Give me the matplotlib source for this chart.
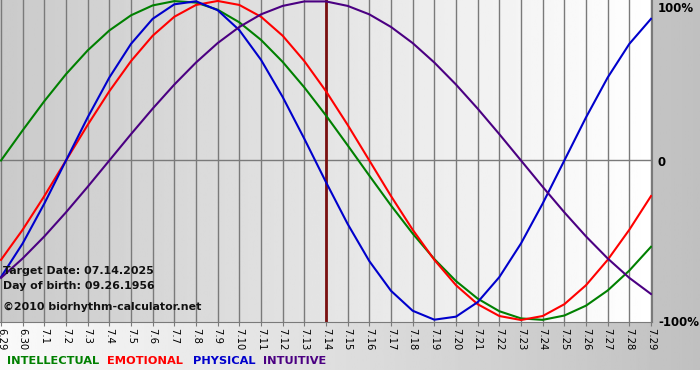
import matplotlib
matplotlib.use('Agg')
import matplotlib.pyplot as plt
import numpy as np

# days shown on the x axis
DAYS = ['6.29', '6.30'] + [f'7.{i}' for i in range(1, 30)]
TARGET = '7.14'

# curve values per day (1 = 100%)
PHYSICAL = [-0.731, -0.520, -0.270, 0.0, 0.270, 0.520, 0.731, 0.888, 0.979, 0.998, 0.942,
            0.817, 0.631, 0.398, 0.136, -0.136, -0.398, -0.631, -0.817, -0.942, -0.998,
            -0.979, -0.888, -0.731, -0.520, -0.270, 0.0, 0.270, 0.520, 0.731, 0.888]
EMOTIONAL = [-0.623, -0.434, -0.223, 0.0, 0.223, 0.434, 0.623, 0.782, 0.901, 0.975, 1.0,
             0.975, 0.901, 0.782, 0.623, 0.434, 0.223, 0.0, -0.223, -0.434, -0.623,
             -0.782, -0.901, -0.975, -1.0, -0.975, -0.901, -0.782, -0.623, -0.434, -0.223]
INTELLECTUAL = [0.0, 0.189, 0.372, 0.541, 0.690, 0.815, 0.910, 0.972, 0.999, 0.990, 0.945,
                0.866, 0.756, 0.618, 0.458, 0.282, 0.095, -0.095, -0.282, -0.458, -0.618,
                -0.756, -0.866, -0.945, -0.990, -0.999, -0.972, -0.910, -0.815, -0.690, -0.541]
INTUITIVE = [-0.736, -0.614, -0.476, -0.325, -0.165, 0.0, 0.165, 0.325, 0.476, 0.614, 0.736,
             0.837, 0.916, 0.969, 0.997, 0.997, 0.969, 0.916, 0.837, 0.736, 0.614,
             0.476, 0.325, 0.165, 0.0, -0.165, -0.325, -0.476, -0.614, -0.736, -0.837]

SERIES = [('INTELLECTUAL', INTELLECTUAL, '#008000'),
          ('EMOTIONAL', EMOTIONAL, '#ff0000'),
          ('PHYSICAL', PHYSICAL, '#0000cc'),
          ('INTUITIVE', INTUITIVE, '#4b0082')]

INFO = ['Target Date: 07.14.2025', 'Day of birth: 09.26.1956', '\u00a92010 biorhythm-calculator.net']

W, H = 700, 380


def px(x, y):
    return x / W, 1 - y / H


def main():
    fig = plt.figure(figsize=(7, 3.8), dpi=100)
    fig.patch.set_facecolor('white')

    # outer gradient background (light left, gray right), white strip at bottom
    bg = fig.add_axes([0, 10 / H, 1, 1 - 10 / H])
    bg.imshow(np.linspace(250, 192, 256)[None, :], cmap='gray', vmin=0, vmax=255,
              aspect='auto', extent=[0, 1, 0, 1])
    bg.axis('off')

    ax = fig.add_axes([0, (H - 322) / H, 652 / W, 322 / H])
    x = np.arange(len(DAYS))
    ax.set_xlim(-0.046, len(DAYS) - 1 + 0.046)
    ax.set_ylim(-1.0125, 1.006)
    ax.imshow(np.linspace(202, 255, 256)[None, :], cmap='gray', vmin=0, vmax=255,
              aspect='auto', extent=[-0.046, len(DAYS) - 1 + 0.046, -1.0125, 1.006], zorder=0)

    for xi in x:
        ax.axvline(xi, color='#7a7a7a', lw=1, zorder=1)
    ax.axhline(0, color='#7a7a7a', lw=1, zorder=1)
    ax.axvline(DAYS.index(TARGET), color='#7a1010', lw=2, zorder=2)

    for name, vals, col in SERIES:
        ax.plot(x, vals, color=col, lw=1.5, zorder=3)

    for s in ['top', 'left']:
        ax.spines[s].set_visible(False)
    for s in ['right', 'bottom']:
        ax.spines[s].set_color('#7a7a7a')
    ax.set_xticks(x)
    ax.set_xticklabels(DAYS, rotation=-90, fontsize=7.2, va='top', ha='center')
    ax.tick_params(axis='x', length=3, color='#7a7a7a', pad=1)
    ax.set_yticks([])

    for i, t in enumerate(INFO):
        ax.text(3 / 652, 1 - (271 + 15 * i + (6 if i == 2 else 0)) / 322, t,
                transform=ax.transAxes, fontsize=7.9, fontweight='bold',
                color='#111111', va='center', ha='left', zorder=4)

    for t, y in [('100%', 8), ('0', 163), ('-100%', 322)]:
        fig.text(*px(658, y), t, fontsize=8.5, fontweight='bold', va='center', ha='left')

    xs = [7, 107, 193, 263]
    for (name, vals, col), xl in zip(SERIES, xs):
        fig.text(*px(xl, 361), name, fontsize=8.2, fontweight='bold', color=col,
                 va='center', ha='left')

    fig.savefig('out.png', dpi=100)


if __name__ == '__main__':
    main()
